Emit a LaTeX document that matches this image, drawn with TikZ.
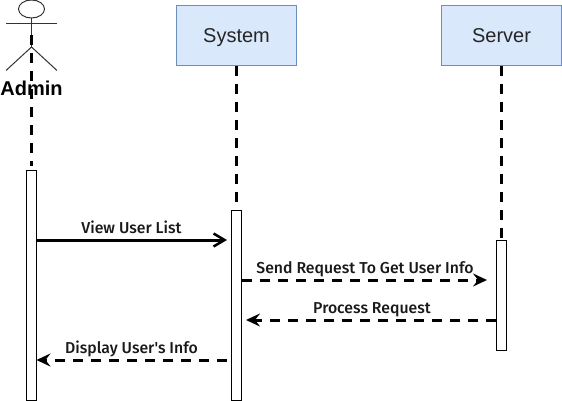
\documentclass[tikz,border=0pt]{standalone}
\usepackage{fontspec}
\setmainfont{Liberation Sans}
\newfontfamily\msgfont[Scale=1.0]{Fira Sans Medium}
\usetikzlibrary{arrows.meta,shapes.geometric}
\definecolor{boxfill}{HTML}{DAE8FC}
\definecolor{boxline}{HTML}{6C8EBF}
\tikzset{
  x=1pt,y=-1pt,
  party/.style={draw=boxline,fill=boxfill,line width=1pt,minimum width=120pt,minimum height=60pt,inner sep=0pt,text height=19pt,text depth=4pt,font=\fontsize{20}{24}\selectfont,text=black!85},
  activation/.style={draw=black,fill=white,line width=1pt,minimum width=10pt,inner sep=0pt},
  lifeline/.style={line width=3pt,dash pattern=on 10pt off 8pt},
  limb/.style={draw=black!80,line width=1pt},
  msglabel/.style={font=\msgfont\fontsize{15.8}{18}\selectfont,inner sep=0pt,anchor=base,text=black!90},
  call/.style={line width=3pt,-{Straight Barb[length=11pt,width=13pt,line width=2.5pt]}},
  reply/.style={line width=3pt,dash pattern=on 10pt off 8pt,-{Stealth[length=14pt,width=13pt,inset=5pt]}},
}
\begin{document}
\begin{tikzpicture}
\useasboundingbox (0,0) rectangle (562,401);
\node[party] (system) at (236.5,35.5) {System};
\node[party] (server) at (501.5,35.5) {Server};
\coordinate (hip) at (31.5,47);
\coordinate (armL) at (6,23.5);
\coordinate (armR) at (57,23.5);
\coordinate (footL) at (6,70.5);
\coordinate (footR) at (57,70.5);
\coordinate (adminline) at (31.5,35);
\node[draw=black!80,line width=1pt,ellipse,minimum width=26pt,minimum height=18pt,inner sep=0pt] (head) at (31.5,9) {};
\node[activation,minimum height=230pt] (adminbar) at (31.5,285.5) {};
\node[activation,minimum height=190pt] (systembar) at (236.5,305.5) {};
\node[activation,minimum height=110pt] (serverbar) at (501.5,295.5) {};
\draw[limb] (head.south) -- (hip);
\draw[limb] (armL) -- (armR);
\draw[limb] (footL) -- (hip) -- (footR);
\draw[lifeline,shorten >=4.5pt] (adminline) -- (adminbar.north);
\draw[lifeline] (system.south) -- (systembar.north);
\draw[lifeline] (server.south) -- (serverbar.north);
\node[font=\bfseries\fontsize{20}{24}\selectfont,inner sep=0pt,anchor=base,text=black] (admin) at (31.5,96) {Admin};
\coordinate (m1a) at (adminbar.east |- 0,240);
\coordinate (m1b) at (227,240);
\coordinate (m2a) at (systembar.east |- 0,280);
\coordinate (m2b) at (487,280);
\coordinate (m3a) at (serverbar.west |- 0,320);
\coordinate (m3b) at (246,320);
\coordinate (m4a) at (226.5,360);
\coordinate (m4b) at (36.5,360);
\draw[call] (m1a) -- (m1b);
\draw[reply] (m2a) -- (m2b);
\draw[reply] (m3a) -- (m3b);
\draw[reply] (m4a) -- (m4b);
\node[msglabel] (l1) at (131.5,233) {View User List};
\node[msglabel] (l2) at (365,273) {Send Request To Get User Info};
\node[msglabel] (l3) at (372,313) {Process Request};
\node[msglabel] (l4) at (131.5,353) {Display User's Info};
\end{tikzpicture}
\end{document}
